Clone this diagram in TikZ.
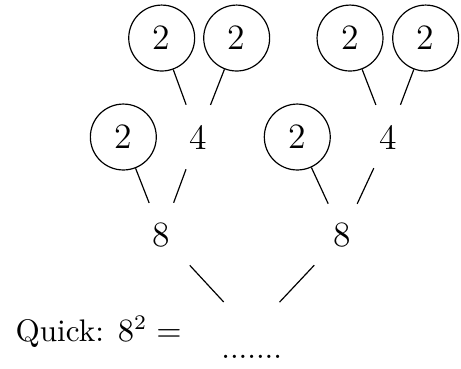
\documentclass[tikz,border=0pt]{standalone}
\usepackage{amsmath}
\usepackage{tikz}
\usetikzlibrary{arrows}

\begin{document}
\begin{tikzpicture}[num/.style={circle,draw=black,minimum size=0.78cm,inner sep=0pt,font=\large},
			bare/.style={circle,minimum size=0.8cm,inner sep=0pt,font=\large}]
			\useasboundingbox (0,0) rectangle (5.454,-4.354);
			
			% top row
			
			\node[num] (A1) at (1.913,-0.450) {2};
			\node[num] (A2) at (2.800,-0.450) {2};
			\node[num] (A3) at (4.141,-0.450) {2};
			\node[num] (A4) at (5.036,-0.450) {2};
			
			% middle row
			
			\node[num] (B1) at (1.459,-1.621) {2};
			\node[bare] (B2) at (2.342,-1.621) {4};
			\node[num] (B3) at (3.517,-1.621) {2};
			\node[bare] (B4) at (4.594,-1.621) {4};
			\draw (A1) -- (B2);
			\draw (A2) -- (B2);
			\draw (A3) -- (B4);
			\draw (A4) -- (B4);
			
			% eights
			
			\node[bare] (C1) at (1.913,-2.780) {8};
			\node[bare] (C2) at (4.054,-2.780) {8};
			\draw (B1) -- (C1);
			\draw (B2) -- (C1);
			\draw (B3) -- (C2);
			\draw (B4) -- (C2);
			
			% root
			
			\coordinate (R) at (2.975,-3.928);
			\draw[shorten <=0.083cm,shorten >=0.485cm] (C1) -- (R);
			\draw[shorten <=0.083cm,shorten >=0.485cm] (C2) -- (R);
			
			\node[anchor=base west,inner sep=0pt,font=\fontsize{10.5}{12}\selectfont] (Q) at (0.177,-4.042) {Quick: $8^2 =$};
			\node[anchor=base,inner sep=0pt,font=\fontsize{10.5}{12}\selectfont] (D) at (2.978,-4.245) {.......};
			
		\end{tikzpicture}
\end{document}
